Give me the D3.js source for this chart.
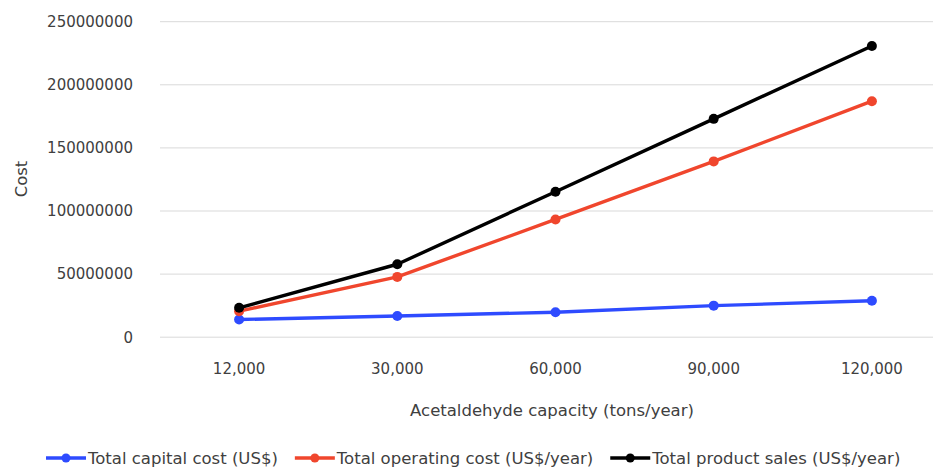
<!DOCTYPE html>
<html>
<head>
<meta charset="utf-8">
<script src="https://cdn.jsdelivr.net/npm/d3@7"></script>
<style>
  html, body { margin: 0; padding: 0; background: #fff; }
  svg { display: block; font-family: "DejaVu Sans", sans-serif; }
</style>
</head>
<body>
<svg id="chart" width="933" height="470"></svg>
<script>
// Plant capacity categories (tons/year)
const capacities = ["12,000", "30,000", "60,000", "90,000", "120,000"];

// Series values
const capitalCost   = [14000000, 16800000, 19800000, 25000000, 28900000];
const operatingCost = [20600000, 47800000, 93300000, 139300000, 187000000];
const productSales  = [23300000, 57800000, 115300000, 173000000, 230800000];

const seriesNames  = ["Total capital cost (US$)", "Total operating cost (US$/year)", "Total product sales (US$/year)"];
const seriesColors = ["#2e4bff", "#f0462d", "#000000"];

// Y axis ticks
const yTicks = [0, 50000000, 100000000, 150000000, 200000000, 250000000];

const series = [capitalCost, operatingCost, productSales].map((values, i) => ({
  name: seriesNames[i],
  color: seriesColors[i],
  values: values.map((v, j) => ({ cat: capacities[j], v }))
}));

const svg = d3.select("#chart");
const plot = { left: 160, right: 951, top: 21.7, bottom: 337.2 };
const textColor = "#404040";

const x = d3.scaleBand().domain(capacities).range([plot.left, plot.right]);
const y = d3.scaleLinear().domain([0, 250000000]).range([plot.bottom, plot.top]);

// Horizontal gridlines
svg.append("g")
  .selectAll("line")
  .data(yTicks)
  .join("line")
  .attr("x1", plot.left).attr("x2", plot.right)
  .attr("y1", d => y(d)).attr("y2", d => y(d))
  .attr("stroke", "#d9d9d9").attr("stroke-width", 1);

// Y axis labels
const yAxis = d3.axisLeft(y).tickValues(yTicks).tickSize(0).tickPadding(0).tickFormat(d3.format("d"));
svg.append("g")
  .attr("transform", `translate(${plot.left - 27},0)`)
  .call(yAxis)
  .call(g => g.select(".domain").remove())
  .call(g => g.selectAll("text").attr("font-size", 15).attr("fill", textColor).attr("font-family", "DejaVu Sans"));

// X axis labels
const xAxis = d3.axisBottom(x).tickSize(0).tickPadding(0);
svg.append("g")
  .attr("transform", `translate(0,${plot.bottom + 26})`)
  .call(xAxis)
  .call(g => g.select(".domain").remove())
  .call(g => g.selectAll("text").attr("font-size", 15).attr("fill", textColor).attr("font-family", "DejaVu Sans"));

// Axis titles
svg.append("text")
  .attr("x", 552).attr("y", 416)
  .attr("text-anchor", "middle")
  .attr("font-size", 16.5).attr("fill", textColor)
  .text("Acetaldehyde capacity (tons/year)");

svg.append("text")
  .attr("transform", "translate(27,179) rotate(-90)")
  .attr("text-anchor", "middle")
  .attr("font-size", 16.5).attr("fill", textColor)
  .text("Cost");

// Lines and markers
const line = d3.line()
  .x(d => x(d.cat) + x.bandwidth() / 2)
  .y(d => y(d.v));

const marks = svg.append("g");
series.forEach(s => {
  marks.append("path")
    .datum(s.values)
    .attr("d", line)
    .attr("fill", "none")
    .attr("stroke", s.color)
    .attr("stroke-width", 3.4)
    .attr("stroke-linejoin", "round");
  marks.selectAll(null)
    .data(s.values)
    .join("circle")
    .attr("cx", d => x(d.cat) + x.bandwidth() / 2)
    .attr("cy", d => y(d.v))
    .attr("r", 5)
    .attr("fill", s.color);
});

// Legend: items flow left to right, each sized by its label
const legend = svg.append("g").attr("transform", "translate(0,458)");
const keyWidth = 40, keyGap = 2, itemGap = 17;
let cursor = 46;
series.forEach(s => {
  const item = legend.append("g").attr("transform", `translate(${cursor},0)`);
  item.append("line").attr("x1", 0).attr("x2", keyWidth).attr("y1", 0).attr("y2", 0)
    .attr("stroke", s.color).attr("stroke-width", 3.4);
  item.append("circle").attr("cx", keyWidth / 2).attr("cy", 0).attr("r", 4.5).attr("fill", s.color);
  const label = item.append("text").attr("x", keyWidth + keyGap).attr("y", 0).attr("dy", "0.35em")
    .attr("font-size", 16.5).attr("fill", textColor)
    .text(s.name);
  cursor += keyWidth + keyGap + label.node().getComputedTextLength() + itemGap;
});
</script>
</body>
</html>
